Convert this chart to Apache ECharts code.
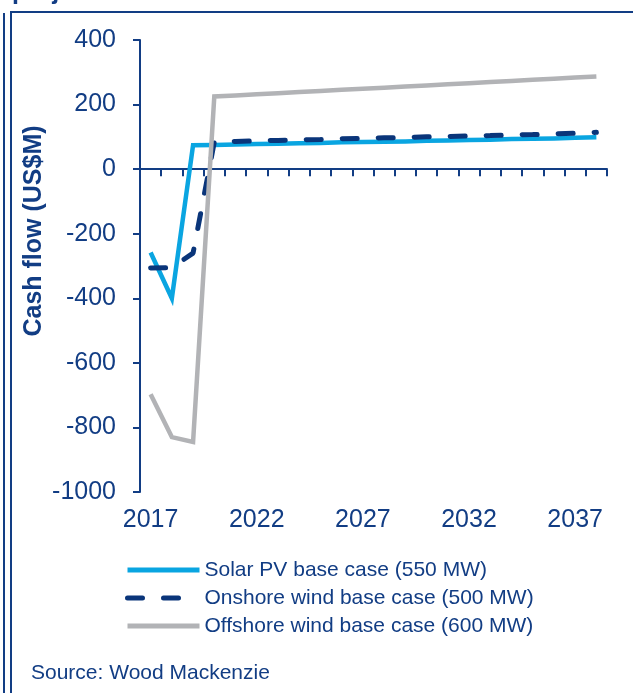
<!DOCTYPE html>
<html>
<head>
<meta charset="utf-8">
<script src="https://cdn.jsdelivr.net/npm/echarts@6/dist/echarts.min.js"></script>
<style>html,body{margin:0;padding:0;background:#fff;}#c{width:633px;height:693px;}</style>
</head>
<body>
<div id="c"></div>
<script>
const years = ['2017','2018','2019','2020','2021','2022','2023','2024','2025','2026','2027','2028','2029','2030','2031','2032','2033','2034','2035','2036','2037','2038'];
const solarPV = [-258,-400,74,75,76,78,79,80,81,83,84,85,86,88,89,90,91,93,94,95,97,99];
const onshoreWind = [-306,-305,-260,84,86,88,89,91,92,94,95,97,98,100,101,103,104,106,107,109,111,114];
const offshoreWind = [-697,-830,-845,225,228,232,235,239,242,246,249,252,256,259,263,266,270,273,277,280,284,287];
const seriesNames = ['Solar PV base case (550 MW)','Onshore wind base case (500 MW)','Offshore wind base case (600 MW)'];
const yTicks = {min:-1000, max:400, interval:200};

const NAVY = '#123d84';
const FONT = '"Liberation Sans", Arial, sans-serif';

const chart = echarts.init(document.getElementById('c'), null, {renderer:'canvas'});
chart.setOption({
  animation:false,
  backgroundColor:'#ffffff',
  textStyle:{fontFamily:FONT},
  grid:{left:140, right:26, top:40, bottom:201},
  xAxis:[{
    type:'category', data:years, boundaryGap:true, position:'bottom',
    axisLine:{show:true, onZero:true, lineStyle:{color:NAVY, width:2}},
    axisTick:{show:true, interval:0, length:7, lineStyle:{color:NAVY, width:2}},
    axisLabel:{show:false}, splitLine:{show:false}
  },{
    type:'category', data:years, boundaryGap:true, position:'bottom',
    axisLine:{show:false, onZero:false}, axisTick:{show:false},
    axisLabel:{show:true, interval:4, fontSize:25, color:NAVY, fontFamily:FONT, margin:16},
    splitLine:{show:false}
  }],
  yAxis:{
    type:'value', min:yTicks.min, max:yTicks.max, interval:yTicks.interval,
    axisLine:{show:true, lineStyle:{color:NAVY, width:2}},
    axisTick:{show:true, length:7, lineStyle:{color:NAVY, width:2}},
    axisLabel:{fontSize:25, color:NAVY, fontFamily:FONT, margin:24, formatter:function(v){return String(v);}},
    splitLine:{show:false}
  },
  legend:{
    orient:'vertical', left:125, top:559, padding:0, itemWidth:72, itemHeight:22, itemGap:6,
    textStyle:{fontSize:21, color:NAVY, fontFamily:FONT, lineHeight:22},
    lineStyle:{width:5},
    itemStyle:{opacity:0},
    data:seriesNames
  },
  series:[
    {name:seriesNames[0], type:'line', xAxisIndex:0, data:solarPV, symbol:'none', color:'#0aa5e1',
     lineStyle:{color:'#0aa5e1', width:4.5, join:'miter'}},
    {name:seriesNames[1], type:'line', xAxisIndex:0, data:onshoreWind, symbol:'none', color:'#0a357a',
     lineStyle:{color:'#0a357a', width:5, type:[15,21], cap:'round'}},
    {name:seriesNames[2], type:'line', xAxisIndex:0, data:offshoreWind, symbol:'none', color:'#b2b3b6',
     lineStyle:{color:'#b2b3b6', width:4.5, join:'miter'}}
  ],
  graphic:[
    {type:'text', x:12, y:-8, style:{text:'projects', font:'bold 25px '+FONT, fill:NAVY, verticalAlign:'middle'}},
    {type:'line', shape:{x1:4, y1:13, x2:4, y2:693}, style:{stroke:NAVY, lineWidth:2}},
    {type:'polyline', shape:{points:[[11,693],[11,12],[633,12]]}, style:{stroke:NAVY, lineWidth:2, fill:null}},
    {type:'text', x:34, y:231, rotation:Math.PI/2, style:{text:'Cash flow (US$M)', font:'bold 25px '+FONT, fill:NAVY, align:'center', verticalAlign:'middle'}},
    {type:'text', x:31, y:673, style:{text:'Source: Wood Mackenzie', font:'21px '+FONT, fill:NAVY, verticalAlign:'middle'}}
  ]
});
</script>
</body>
</html>
